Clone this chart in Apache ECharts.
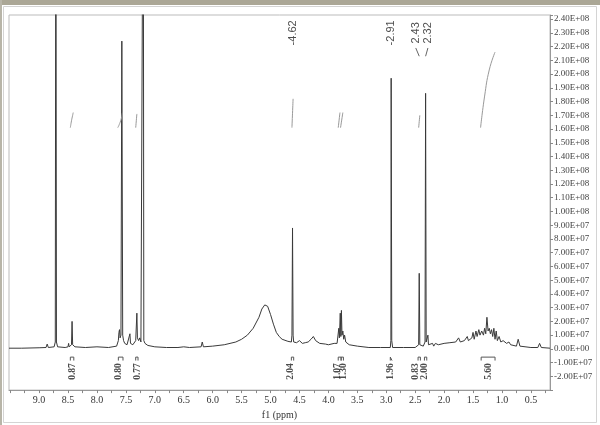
<!DOCTYPE html>
<html>
<head>
<meta charset="utf-8">
<script src="https://cdn.jsdelivr.net/npm/echarts@6/dist/echarts.min.js"></script>
<style>
  html, body { margin: 0; padding: 0; background: #fff; }
  #chart { width: 600px; height: 425px; }
</style>
</head>
<body>
<div id="chart"></div>
<script>
// 谱图数据：化学位移 (ppm) 与强度 (单位 1e7)
const shifts = [
  9.52, 9.30, 9.00, 8.88, 8.86, 8.84, 8.74, 8.72, 8.71, 8.70, 8.68, 8.55, 8.50, 8.49, 8.48,
  8.44, 8.43, 8.42, 8.38, 8.20, 8.00, 7.80, 7.66, 7.63, 7.62, 7.61, 7.60, 7.585, 7.57, 7.555,
  7.54, 7.52, 7.50, 7.48, 7.45, 7.43, 7.42, 7.40, 7.38, 7.36, 7.33, 7.31, 7.30, 7.28, 7.26,
  7.24, 7.21, 7.20, 7.19, 7.17, 7.12, 7.00, 6.80, 6.60, 6.50, 6.40, 6.20, 6.18, 6.16, 6.00,
  5.80, 5.60, 5.50, 5.40, 5.30, 5.20, 5.15, 5.10, 5.05, 5.00, 4.95, 4.90, 4.85, 4.80, 4.70,
  4.64, 4.63, 4.62, 4.61, 4.60, 4.55, 4.50, 4.45, 4.40, 4.35, 4.30, 4.26, 4.22, 4.15, 4.05,
  4.00, 3.90, 3.85, 3.82, 3.81, 3.795, 3.785, 3.775, 3.765, 3.75, 3.735, 3.72, 3.70, 3.67, 3.64,
  3.50, 3.30, 3.10, 2.93, 2.92, 2.915, 2.905, 2.89, 2.70, 2.50, 2.44, 2.43, 2.42, 2.36, 2.33,
  2.32, 2.31, 2.29, 2.28, 2.27, 2.20, 2.18, 2.15, 2.10, 2.00, 1.90, 1.80, 1.75, 1.72, 1.65,
  1.60, 1.58, 1.52, 1.50, 1.48, 1.45, 1.43, 1.40, 1.38, 1.35, 1.32, 1.30, 1.28, 1.26, 1.24,
  1.22, 1.20, 1.18, 1.16, 1.14, 1.12, 1.10, 1.08, 1.05, 1.02, 0.98, 0.92, 0.88, 0.85, 0.75,
  0.72, 0.69, 0.50, 0.38, 0.35, 0.32, 0.17
];
const intensity = [
  0.05, 0.05, 0.08, 0.10, 0.35, 0.10, 0.15, 0.50, 40, 0.50, 0.15, 0.10, 0.15, 0.40, 0.15,
  0.30, 2.00, 0.30, 0.15, 0.10, 0.15, 0.10, 0.20, 0.60, 1.20, 1.40, 0.80, 1.00, 22.4, 1.00,
  0.60, 0.40, 0.50, 0.30, 0.40, 1.10, 0.40, 0.40, 0.30, 0.40, 0.60, 2.60, 0.80, 0.60, 0.80,
  0.50, 0.60, 40, 0.60, 0.40, 0.25, 0.15, 0.10, 0.10, 0.15, 0.10, 0.15, 0.50, 0.15, 0.20,
  0.30, 0.50, 0.70, 1.00, 1.50, 2.30, 2.90, 3.20, 3.10, 2.50, 1.80, 1.20, 0.90, 0.70, 0.55,
  0.50, 1.00, 8.80, 1.00, 0.50, 0.45, 0.60, 0.40, 0.45, 0.50, 0.70, 0.90, 0.60, 0.40, 0.35,
  0.30, 0.40, 0.40, 1.50, 0.80, 2.60, 0.90, 2.80, 1.00, 1.30, 0.70, 1.00, 0.50, 0.60, 0.30,
  0.20, 0.10, 0.10, 0.10, 0.60, 19.7, 0.60, 0.10, 0.10, 0.10, 0.30, 5.50, 0.30, 0.20, 0.50,
  18.6, 0.50, 0.40, 1.00, 0.30, 0.40, 0.20, 0.40, 0.30, 0.40, 0.45, 0.50, 0.80, 0.50, 0.60,
  0.90, 0.60, 0.80, 1.20, 0.70, 1.30, 0.90, 1.40, 1.00, 1.30, 1.00, 1.50, 1.10, 2.30, 1.30,
  1.50, 1.10, 1.40, 0.90, 1.50, 0.70, 1.30, 0.60, 0.90, 0.50, 0.60, 0.40, 0.50, 0.30, 0.20,
  0.70, 0.20, 0.10, 0.10, 0.40, 0.10, 0.05
];

// 峰标注
const peakLabels = ['-4.62', '-2.91', '2.43', '2.32'];
const peakLabelPos = [4.62, 2.91, 2.49, 2.28];
const peakLinks = [[2.49, 2.43], [2.28, 2.32]];

// 积分
const integralValues = ['0.87', '0.80', '0.77', '2.04', '1.07', '1.30', '1.96', '0.83', '2.00', '5.60'];
const integralLabelPos = [8.43, 7.62, 7.29, 4.65, 3.85, 3.73, 2.93, 2.49, 2.33, 1.24];
const integralFrom = [8.46, 7.63, 7.33, 4.64, 3.83, 3.78, 2.93, 2.45, 2.34, 1.36];
const integralTo = [8.40, 7.55, 7.29, 4.60, 3.78, 3.74, 2.90, 2.41, 2.30, 1.12];

// 积分曲线 (ppm, 强度)
const integralCurves = [
  [[8.46, 16.1], [8.44, 16.6], [8.42, 17.0], [8.41, 17.2]],
  [[7.64, 16.1], [7.59, 16.6], [7.56, 17.2]],
  [[7.33, 16.1], [7.31, 17.1]],
  [[4.63, 16.1], [4.61, 18.2]],
  [[3.83, 16.1], [3.80, 17.2]],
  [[3.79, 16.1], [3.75, 17.2]],
  [[2.44, 16.1], [2.42, 17.0]],
  [[1.37, 16.1], [1.30, 18.4], [1.22, 20.3], [1.12, 21.6]]
];

const xLabels = [0.5, 1.0, 1.5, 2.0, 2.5, 3.0, 3.5, 4.0, 4.5, 5.0, 5.5, 6.0, 6.5, 7.0, 7.5, 8.0, 8.5, 9.0];
const xTicks = [];
for (let i = 1; i <= 38; i++) xTicks.push(i * 0.25);

// y 轴标签格式 2.40E+08
const sciLabel = (v) => {
  if (v < -2.01 || v > 24.01 || Math.abs(v - Math.round(v)) > 1e-6) return '';
  const val = Math.round(v) * 1e7;
  let exp = val === 0 ? 0 : Math.floor(Math.log10(Math.abs(val)));
  const mant = val / Math.pow(10, exp);
  const e = Math.abs(exp);
  return mant.toFixed(2) + 'E' + (exp < 0 ? '-' : '+') + (e < 10 ? '0' + e : e);
};

const chart = echarts.init(document.getElementById('chart'));

const series = [
  {
    type: 'line',
    data: shifts.map((s, i) => [s, intensity[i]]),
    showSymbol: false,
    clip: true,
    lineStyle: { color: '#3a3a3a', width: 1 },
    z: 3
  },
  {
    type: 'scatter',
    data: peakLabelPos.map((p, i) => ({ value: [p, 23.0], name: peakLabels[i] })),
    symbolSize: 1,
    itemStyle: { color: 'rgba(0,0,0,0)' },
    label: {
      show: true, position: 'inside', rotate: 90,
      formatter: (p) => p.name,
      fontFamily: 'Liberation Sans', fontSize: 11, color: '#222'
    }
  },
  {
    type: 'scatter',
    data: integralValues.map((t, i) => ({ value: [integralLabelPos[i], -1.65], name: t })),
    symbolSize: 1,
    itemStyle: { color: 'rgba(0,0,0,0)' },
    label: {
      show: true, position: 'inside', rotate: 90,
      formatter: (p) => p.name,
      fontFamily: 'Liberation Serif', fontWeight: 'bold', fontSize: 9.5, color: '#222'
    }
  }
];

// 峰标注连线
peakLinks.forEach(([a, b]) => {
  series.push({
    type: 'line', data: [[a, 21.9], [b, 21.3]], showSymbol: false,
    lineStyle: { color: '#666', width: 1 }
  });
});

// 积分曲线
integralCurves.forEach((c) => {
  series.push({
    type: 'line', data: c, showSymbol: false, smooth: true,
    lineStyle: { color: '#999', width: 1 }
  });
});

// 积分区间括号
integralFrom.forEach((a, i) => {
  const b = integralTo[i];
  series.push({
    type: 'line', data: [[a, -0.85], [a, -0.6], [b, -0.6], [b, -0.85]], showSymbol: false,
    lineStyle: { color: '#555', width: 1 }
  });
});

const option = {
  animation: false,
  backgroundColor: '#fff',
  grid: { left: 9, right: 50, top: 15, bottom: 25, show: true, borderColor: '#bbb', borderWidth: 1 },
  xAxis: {
    type: 'value', inverse: true, min: 0.17, max: 9.52,
    name: 'f1 (ppm)', nameLocation: 'middle', nameGap: 15,
    nameTextStyle: { fontFamily: 'Liberation Serif', fontSize: 10, color: '#333' },
    axisLine: { show: true, onZero: false, lineStyle: { color: '#999' } },
    axisTick: { show: true, customValues: xTicks, length: 3, lineStyle: { color: '#888' } },
    axisLabel: {
      customValues: xLabels, margin: 5, formatter: (v) => v.toFixed(1),
      fontFamily: 'Liberation Serif', fontSize: 10, color: '#333'
    },
    splitLine: { show: false }
  },
  yAxis: {
    type: 'value', position: 'right', min: -3, max: 24.3, interval: 1,
    axisLine: { show: true, lineStyle: { color: '#999' } },
    axisTick: { show: true, length: 3, lineStyle: { color: '#888' } },
    axisLabel: {
      formatter: sciLabel, margin: 4,
      fontFamily: 'Liberation Serif', fontSize: 9, color: '#444'
    },
    splitLine: { show: false }
  },
  graphic: [
    { type: 'rect', shape: { x: 0, y: 0, width: 600, height: 5 }, style: { fill: '#aba796' } },
    { type: 'rect', shape: { x: 0, y: 0, width: 2, height: 425 }, style: { fill: '#b8b5a8' } },
    { type: 'rect', shape: { x: 3.5, y: 6.5, width: 593, height: 416 }, style: { fill: 'none', stroke: '#d4d4d4', lineWidth: 1 }, z: -1 }
  ],
  series: series
};

chart.setOption(option);
</script>
</body>
</html>
